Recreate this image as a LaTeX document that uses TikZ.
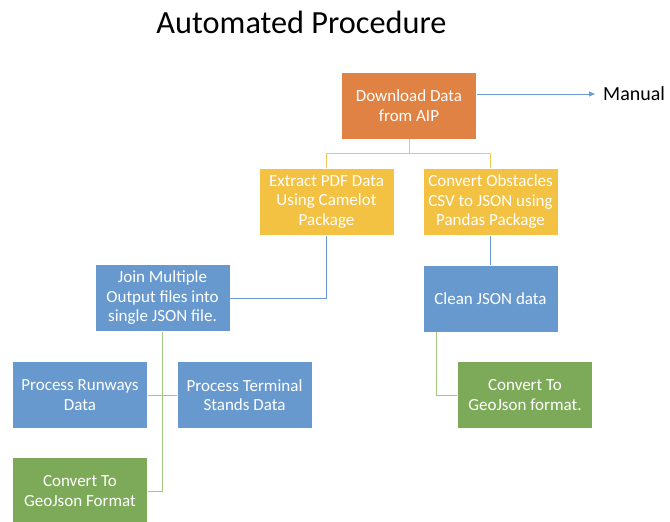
\documentclass[tikz,border=0pt]{standalone}
\usepackage{fontspec}
\setmainfont{Carlito}
\usetikzlibrary{arrows.meta}

\definecolor{orangebox}{RGB}{224,130,67}
\definecolor{yellowbox}{RGB}{243,194,67}
\definecolor{bluebox}{RGB}{104,153,206}
\definecolor{greenbox}{RGB}{124,170,88}
\definecolor{yellowline}{RGB}{245,198,86}
\definecolor{blueline}{RGB}{108,156,212}
\definecolor{greenline}{RGB}{160,200,128}

\tikzset{
  box/.style={draw=white, line width=0.8pt, text=white, align=center,
    minimum width=135pt, minimum height=67pt, inner sep=0pt,
    font=\fontsize{17}{19.5}\selectfont},
  link/.style={line width=0.9pt}
}

\begin{document}
\begin{tikzpicture}[x=1pt, y=-1pt]
\useasboundingbox (0,0) rectangle (670,522);
\node (title) at (301.5,22.5) {\fontsize{32.3}{36}\selectfont Automated Procedure};
\node[box, fill=orangebox] (dl) at (409,105.5) {Download Data\\from AIP};
\node[anchor=west, inner sep=0pt, font=\fontsize{20}{22}\selectfont] (man) at (603,94) {Manual};
\node[box, fill=yellowbox] (ext) at (326.5,202) {Extract PDF Data\\Using Camelot\\Package};
\node[box, fill=yellowbox] (obs) at (490.5,202) {Convert Obstacles\\CSV to JSON using\\Pandas Package};
\node[box, fill=bluebox] (clean) at (490.5,298.5) {Clean JSON data};
\node[box, fill=bluebox] (join) at (162.5,298) {Join Multiple\\Output files into\\single JSON file.};
\node[box, fill=bluebox] (run) at (80,395) {Process Runways\\Data};
\node[box, fill=bluebox] (term) at (244.5,395) {Process Terminal\\Stands Data};
\node[box, fill=greenbox] (geoA) at (80,491) {Convert To\\GeoJson Format};
\node[box, fill=greenbox] (geoB) at (525,395) {Convert To\\GeoJson format.};
% connectors
\draw[link, blueline, -{Triangle[length=6pt,width=5pt]}] (dl.east |- man.west) -- ([xshift=-8pt]man.west);
\draw[link, yellowline] (dl.south) -- ++(0,14) -| (ext.north);
\draw[link, yellowline] (dl.south) -- ++(0,14) -| (obs.north);
\draw[link, blueline] (ext.south) |- (join.east);
\draw[link, blueline] (obs.south) -- (clean.north);
\draw[link, greenline] (join.south) |- (geoA.east);
\draw[link, greenline] (run.east) -- (term.west);
\draw[link, greenline] ([xshift=-54.5pt]clean.south) |- (geoB.west);
\end{tikzpicture}
\end{document}
